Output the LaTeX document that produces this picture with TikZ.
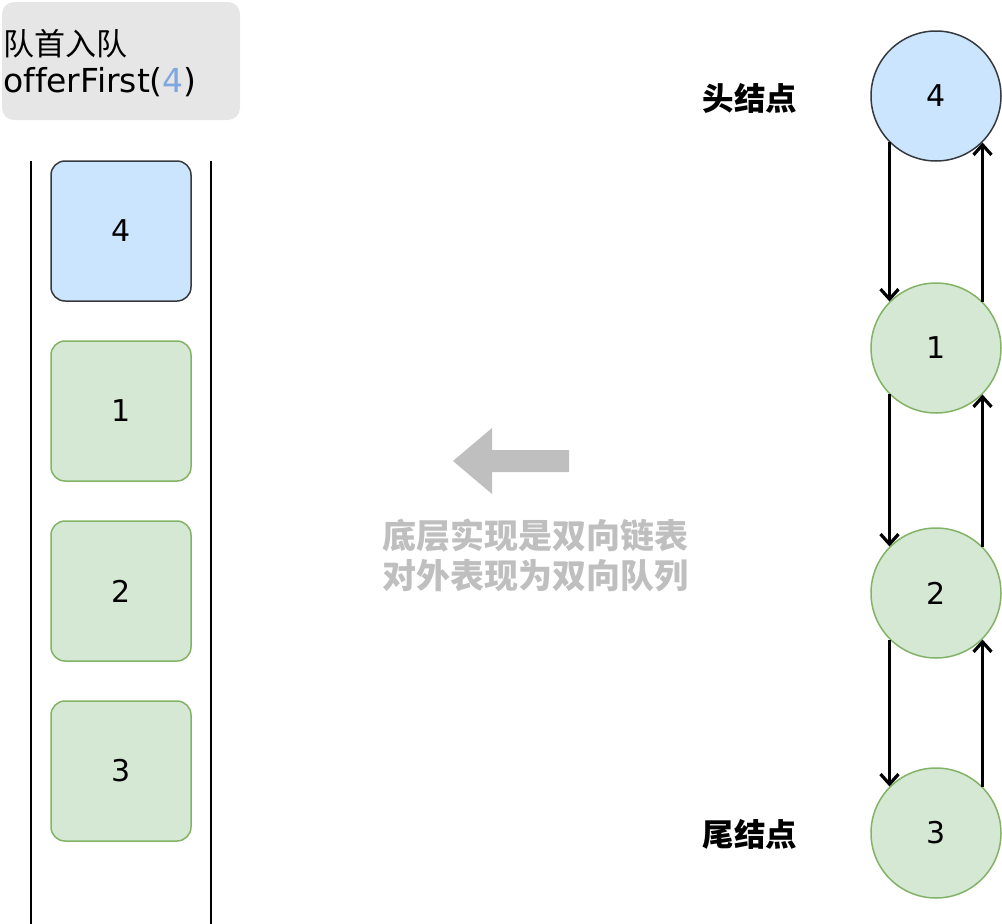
\documentclass[tikz,border=0pt]{standalone}
\usepackage{fontspec}
\setmainfont{DejaVu Sans}[Ligatures=NoCommon]
\newfontfamily\cjk{Noto Sans CJK SC}
\usetikzlibrary{arrows.meta}
\definecolor{bluefill}{HTML}{CCE5FF}
\definecolor{darkstroke}{HTML}{36393D}
\definecolor{greenfill}{HTML}{D5E8D4}
\definecolor{greenstroke}{HTML}{82B366}
\definecolor{boxgray}{HTML}{E6E6E6}
\definecolor{arrowgray}{HTML}{BFBFBF}
\definecolor{numblue}{HTML}{7EA6E0}
\tikzset{
  sq/.style={rectangle, rounded corners=14pt, minimum width=140pt, minimum height=140pt, line width=1.5pt, font=\fontsize{30}{34}\selectfont, inner sep=0pt},
  bluesq/.style={sq, fill=bluefill, draw=darkstroke},
  greensq/.style={sq, fill=greenfill, draw=greenstroke},
  circ/.style={circle, minimum size=130pt, inner sep=0pt, line width=1.5pt, font=\fontsize{30}{34}\selectfont},
  bluecirc/.style={circ, fill=bluefill, draw=darkstroke},
  greencirc/.style={circ, fill=greenfill, draw=greenstroke},
  link/.style={line width=3.2pt, -{Straight Barb[length=10pt,width=18pt,line width=3.2pt]}},
  endlabel/.style={font=\cjk\bfseries\fontsize{31.5}{36}\selectfont},
  wall/.style={line width=1.5pt}
}
\begin{document}
\begin{tikzpicture}[x=1pt,y=-1pt]
\useasboundingbox (0,0) rectangle (1002,924);
% title box
\node[fill=boxgray, rounded corners=12pt, minimum width=238pt, minimum height=118pt, inner sep=0pt] (title) at (121,61) {};
\node[anchor=west, align=left, inner sep=0pt, font=\fontsize{31}{37}\selectfont] (titletext) at (3,63)
  {{\cjk 队首入队}\\{\fontsize{33}{37}\selectfont of\kern0ptferFirst({\color{numblue}4})}};
% walls
\coordinate (lt) at (31,161);
\coordinate (lb) at (31,924);
\coordinate (rt) at (211,161);
\coordinate (rb) at (211,924);
\draw[wall] (lt) -- (lb);
\draw[wall] (rt) -- (rb);
% queue squares
\node[bluesq] (q4) at (121,231) {4};
\node[greensq] (q1) at (121,411) {1};
\node[greensq] (q2) at (121,591) {2};
\node[greensq] (q3) at (121,771) {3};
% gray block arrow
\fill[arrowgray] (453,461) -- (492,428) -- (492,450) -- (569,450) -- (569,472) -- (492,472) -- (492,494) -- cycle;
\node[align=center, text=arrowgray, font=\cjk\bfseries\fontsize{34}{40}\selectfont, inner sep=0pt] (note) at (535,555)
  {底层实现是双向链表\\对外表现为双向队列};
% linked list
\node[bluecirc] (c4) at (936,96) {4};
\node[greencirc] (c1) at (936,348) {1};
\node[greencirc] (c2) at (936,593) {2};
\node[greencirc] (c3) at (936,833) {3};
\draw[link] (c4.-135) -- (c1.135);
\draw[link] (c1.45) -- (c4.-45);
\draw[link] (c1.-135) -- (c2.135);
\draw[link] (c2.45) -- (c1.-45);
\draw[link] (c2.-135) -- (c3.135);
\draw[link] (c3.45) -- (c2.-45);
\node[endlabel] (head) at (750,98) {头结点};
\node[endlabel] (tail) at (750,834) {尾结点};
\end{tikzpicture}
\end{document}
